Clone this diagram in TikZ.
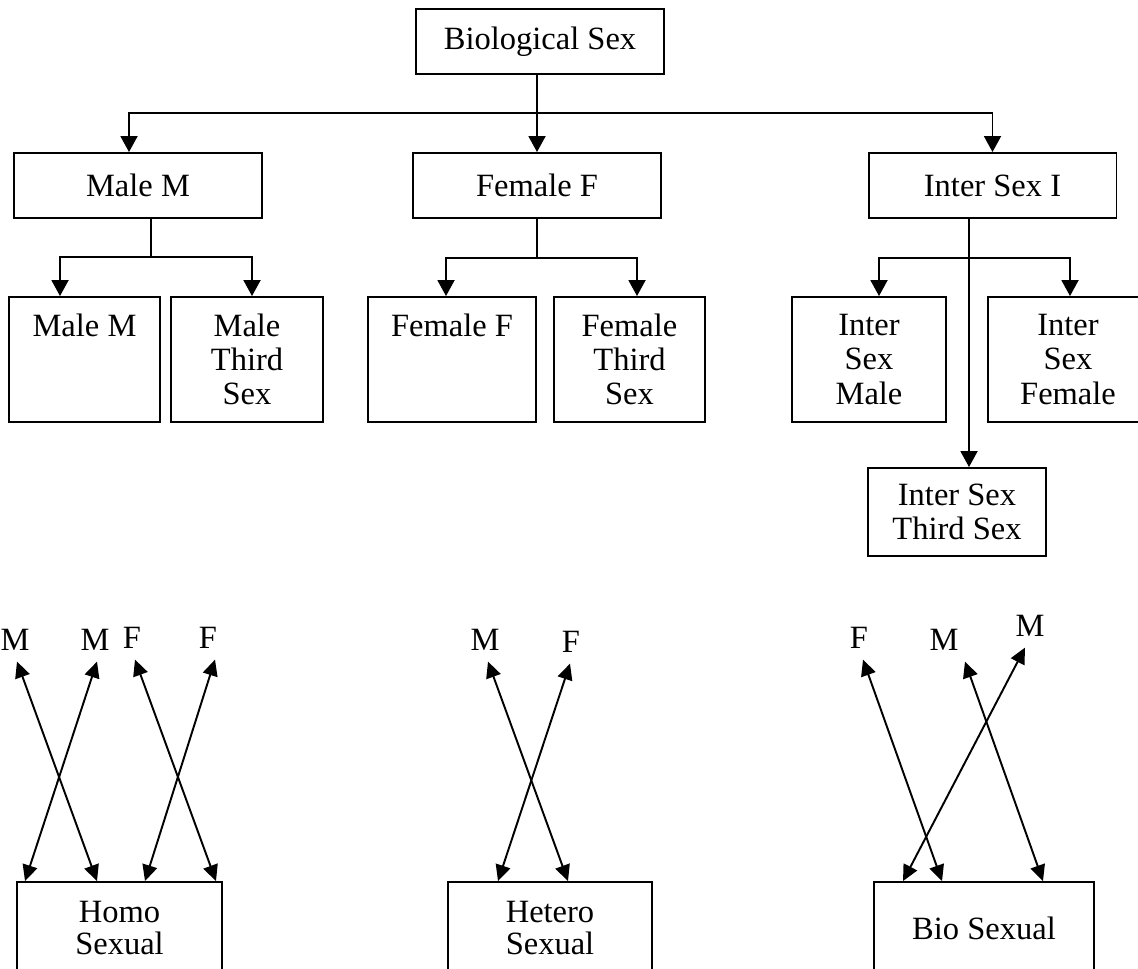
\documentclass[tikz,border=0pt]{standalone}
\usepackage{fontspec}
\setmainfont{Liberation Serif}
\usetikzlibrary{arrows.meta}

\begin{document}
\begin{tikzpicture}[x=0.02cm, y=-0.02cm, line width=1.1pt,
		box/.style={draw, minimum width=4.96cm, minimum height=1.3cm, inner sep=0pt, align=center, font=\fontsize{18.5}{19.5}\selectfont},
		tall/.style={box, minimum height=2.5cm},
		low/.style={box, minimum height=1.84cm, font=\fontsize{18.5}{18}\selectfont},
		lbl/.style={inner sep=0.2cm, font=\fontsize{18.5}{20}\selectfont},
		arr/.style={-{Triangle[length=0.32cm,width=0.34cm]}},
		both/.style={{Triangle[length=0.32cm,width=0.3cm]}-{Triangle[length=0.32cm,width=0.3cm]}}]
		\useasboundingbox (0,0) rectangle (1138,969);

		\node[box] (bio) at (540,41.5) {Biological Sex};
		\node[box] (male) at (138,185.5) {Male M};
		\node[box] (female) at (537,185.5) {Female F};
		\node[box] (inter) at (992.5,185.5) {Inter Sex I};

		\node[tall, minimum width=3.02cm] (mm) at (84.5,359.5) {Male M\\\mbox{}\\\mbox{}};
		\node[tall, minimum width=3.04cm] (mt) at (247,359.5) {Male\\Third\\Sex};
		\node[tall, minimum width=3.36cm] (ff) at (452,359.5) {Female F\\\mbox{}\\\mbox{}};
		\node[tall, minimum width=3.02cm] (ft) at (629.5,359.5) {Female\\Third\\Sex};
		\node[tall, minimum width=3.08cm] (ism) at (869,359.5) {Inter\\Sex\\Male};
		\node[tall, minimum width=3.2cm] (isf) at (1068,359.5) {Inter\\Sex\\Female};
		\node[box, minimum width=3.56cm, minimum height=1.76cm] (ist) at (957,512) {Inter Sex\\Third Sex};

		\coordinate (bus) at (537,113);
		\coordinate (mfork) at (151,257);
		\coordinate (ffork) at (537,258);
		\coordinate (ifork) at (969,258);

		\draw[arr] (bio.south -| female.north) -- (female.north);
		\draw[arr] (bus) -| ([xshift=-0.18cm]male.north);
		\draw[arr] (bus) -| (inter.north);

		\draw (male.south -| mfork) -- (mfork);
		\draw[arr] (mfork) -| ([xshift=-0.49cm]mm.north);
		\draw[arr] (mfork) -| ([xshift=0.1cm]mt.north);

		\draw (female.south) -- (ffork);
		\draw[arr] (ffork) -| ([xshift=-0.12cm]ff.north);
		\draw[arr] (ffork) -| ([xshift=0.15cm]ft.north);

		\draw[arr] (inter.south -| ifork) -- ([xshift=0.24cm]ist.north);
		\draw[arr] (ifork) -| ([xshift=0.2cm]ism.north);
		\draw[arr] (ifork) -| ([xshift=0.04cm]isf.north);

		\node[low, minimum width=4.1cm] (homo) at (119.5,928) {Homo\\Sexual};
		\node[low, minimum width=4.08cm] (hetero) at (550,928) {Hetero\\Sexual};
		\node[low, minimum width=4.4cm] (bisex) at (984,928) {Bio Sexual};

		\node[lbl] (hm1) at (15,640) {M};
		\node[lbl] (hm2) at (95,640) {M};
		\node[lbl] (hf1) at (132,638) {F};
		\node[lbl] (hf2) at (208,638) {F};
		\node[lbl] (tm) at (485,640) {M};
		\node[lbl] (tf) at (571,642) {F};
		\node[lbl] (bf) at (859,638) {F};
		\node[lbl] (bm1) at (944,640) {M};
		\node[lbl] (bm2) at (1030,626) {M};

		\draw[both] ([xshift=0.04cm]hm1.south) -- ([xshift=-0.45cm]homo.north);
		\draw[both] ([xshift=0.04cm]hm2.south) -- ([xshift=-1.89cm]homo.north);
		\draw[both] ([xshift=0.06cm]hf1.south) -- ([xshift=1.93cm]homo.north);
		\draw[both] ([xshift=0.14cm]hf2.south) -- ([xshift=0.51cm]homo.north);
		\draw[both] ([xshift=0.06cm]tm.south) -- ([xshift=0.36cm]hetero.north);
		\draw[both] ([xshift=-0.02cm]tf.south) -- ([xshift=-1.04cm]hetero.north);
		\draw[both] ([xshift=0.08cm]bf.south) -- ([xshift=-0.84cm]bisex.north);
		\draw[both] ([xshift=0.42cm]bm1.south) -- ([xshift=1.18cm]bisex.north);
		\draw[both] ([xshift=-0.1cm]bm2.south) -- ([xshift=-1.62cm]bisex.north);
	\end{tikzpicture}
\end{document}
